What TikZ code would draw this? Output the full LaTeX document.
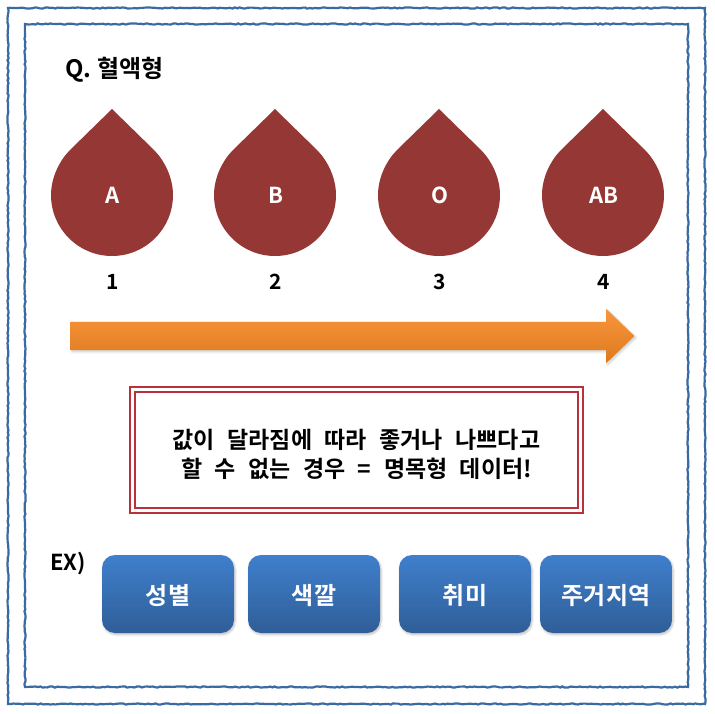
\documentclass[tikz,border=0pt]{standalone}
\usepackage{fontspec}
\setmainfont{Noto Sans CJK KR}[BoldFont={* Bold}]
\usepackage{xcolor}
\definecolor{frameBlue}{HTML}{3A6AA2}
\definecolor{bloodRed}{HTML}{953735}
\definecolor{boxRed}{HTML}{B8323C}
\definecolor{arrowTop}{HTML}{F9963A}
\definecolor{arrowBottom}{HTML}{DD7A20}
\definecolor{buttonTop}{HTML}{3F7FCC}
\definecolor{buttonBottom}{HTML}{2F5E98}
\usepackage{tikz}
\usetikzlibrary{
    shapes.arrows,
    decorations.pathmorphing,
    shadows.blur
}
\tikzset{
    % Rough double frame round the page
    rough frame/.style={
        draw=frameBlue,
        line width=2.2pt,
        decorate,
        decoration={random steps, segment length=2.5pt, amplitude=0.6pt},
    },
    % Drop outline, tip on top
    blood/.style={
        fill=bloodRed,
    },
    % Letter inside a drop
    drop text/.style={
        text=white,
        xshift=0.7pt,
        font=\bfseries\fontsize{22}{26}\selectfont,
    },
    % Number under a drop
    drop label/.style={
        xshift=0.7pt,
        font=\bfseries\fontsize{21}{25}\selectfont,
        text=black,
    },
    % Big orange arrow
    scale arrow/.style={
        single arrow,
        minimum height=564pt,
        minimum width=54pt,
        single arrow head extend=13pt,
        single arrow tip angle=88,
        single arrow head indent=0pt,
        inner xsep=0pt,
        inner ysep=14pt,
        top color=arrowTop,
        bottom color=arrowBottom,
        blur shadow={
            shadow xshift=0.3ex,
            shadow yshift=-0.3ex,
            shadow blur steps=5,
            shadow opacity=20
        },
    },
    % Red box with a double line
    note box/.style={
        draw=boxRed,
        line width=1.6pt,
        double=white,
        double distance=3.4pt,
        minimum width=448pt,
        minimum height=121pt,
        align=center,
        font=\bfseries\fontsize{23}{29}\selectfont,
        execute at begin node={\spaceskip=12.5pt\relax},
    },
    % Blue example buttons
    button/.style={
        rectangle,
        rounded corners=13pt,
        minimum width=132pt,
        minimum height=78pt,
        top color=buttonTop,
        bottom color=buttonBottom,
        text=white,
        text height=21pt,
        text depth=0pt,
        font=\bfseries\fontsize{24}{28}\selectfont,
        blur shadow={
            shadow xshift=0.2ex,
            shadow yshift=-0.3ex,
            shadow blur steps=5,
            shadow opacity=25
        },
    },
    % Plain headings
    heading/.style={
        font=\bfseries\fontsize{24}{28}\selectfont,
        text=black,
        inner sep=0pt,
    },
}

\begin{document}
\begin{tikzpicture}[x=1pt, y=-1pt]
    \useasboundingbox (0,0) rectangle (715,714);

    \draw [rough frame] (8,8) rectangle (705,704);
    \draw [rough frame] (25,24) rectangle (688,687);

    \node (title) [heading] at (114.5,70) {Q. 혈액형};

    % drops with their numbers
    \foreach \name/\xpos/\num in {A/112/1, B/275/2, O/439/3, AB/603/4} {
        \fill [blood] (\xpos,109) -- (\xpos-42,150)
            .. controls (\xpos-52,160) and (\xpos-61,177) .. (\xpos-61,195)
            arc [start angle=180, end angle=0, radius=61]
            .. controls (\xpos+61,177) and (\xpos+52,160) .. (\xpos+42,150) -- cycle;
        \node (drop\name) [drop text] at (\xpos,195) {\name};
        \node (num\name) [drop label] at (\xpos,282) {\num};
    }

    \node (scale) [scale arrow] at (345,336) {};

    \node (note) [note box] at (356.5,450) {\rule{0pt}{29pt}값이 달라짐에 따라 좋거나 나쁘다고\\할 수 없는 경우 = 명목형 데이터!};

    \node (ex) [heading, font=\bfseries\fontsize{22}{26}\selectfont] at (68,564) {EX)};
    \node (gender) [button] at (168,594) {성별};
    \node (color) [button] at (314,594) {색깔};
    \node (hobby) [button] at (465,594) {취미};
    \node (region) [button] at (606,594) {주거지역};
\end{tikzpicture}
\end{document}
